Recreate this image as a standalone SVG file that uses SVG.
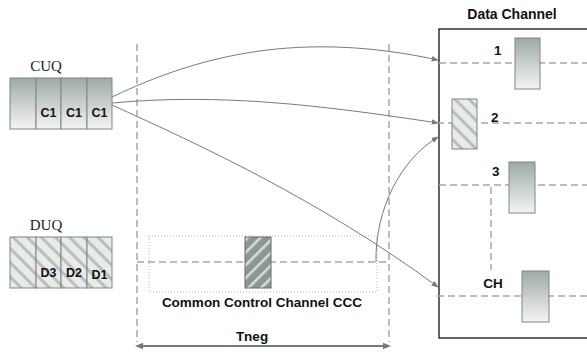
<svg xmlns="http://www.w3.org/2000/svg" width="587" height="354" viewBox="0 0 587 354">
<defs>
<linearGradient id="gr" x1="0" y1="0" x2="0" y2="1">
<stop offset="0" stop-color="#9eaaa3"/>
<stop offset="1" stop-color="#f4f5f4"/>
</linearGradient>
<pattern id="hatchB" patternUnits="userSpaceOnUse" width="10" height="10" patternTransform="rotate(-45)">
<rect width="10" height="10" fill="#e9ebe9"/>
<rect width="3" height="10" fill="#b9c0bb"/>
</pattern>
<pattern id="hatchF" patternUnits="userSpaceOnUse" width="9" height="9" patternTransform="rotate(45)">
<rect width="9" height="9" fill="#8a9890"/>
<rect width="2.5" height="9" fill="#d9ddda"/>
</pattern>
<marker id="ah" viewBox="0 0 10 10" refX="9" refY="5" markerWidth="7" markerHeight="7" orient="auto" markerUnits="userSpaceOnUse">
<path d="M0,1 L10,5 L0,9 z" fill="#707c76"/>
</marker>
<marker id="ah2" viewBox="0 0 10 10" refX="5" refY="5" markerWidth="8" markerHeight="8" orient="auto-start-reverse" markerUnits="userSpaceOnUse">
<path d="M0,1 L10,5 L0,9 z" fill="#707c76"/>
</marker>
</defs>
<style>
.dash{stroke:#a5a9a7;stroke-width:1.5;stroke-dasharray:7,4;fill:none}
.cell{stroke:#7d8781;stroke-width:1}
.lbl{font-family:"Liberation Sans",Arial,sans-serif;font-weight:bold;font-size:12.5px;fill:#111}
.big{font-size:13.5px}
.ttl{font-size:14px}
.ccc{font-size:13.5px}
.ser{font-family:"Liberation Serif","Times New Roman",serif;font-size:15px;fill:#222}
.conn{stroke:#727e78;stroke-width:1;fill:none}
</style>
<rect width="587" height="354" fill="#fff"/>

<g id="timeline">
<line class="dash" x1="137" y1="44" x2="137" y2="342"/>
<line class="dash" x1="389" y1="44" x2="389" y2="342"/>
<line x1="139" y1="346" x2="387" y2="346" stroke="#707c76" stroke-width="2" marker-start="url(#ah2)" marker-end="url(#ah2)"/>
<text class="lbl big" x="252" y="341" text-anchor="middle">Tneg</text>
</g>

<g id="cuq">
<text class="ser" x="46" y="71" text-anchor="middle">CUQ</text>
<rect class="cell" x="10" y="78" width="26" height="51" fill="url(#gr)"/>
<rect class="cell" x="36" y="78" width="25" height="51" fill="url(#gr)"/>
<rect class="cell" x="61" y="78" width="26" height="51" fill="url(#gr)"/>
<rect class="cell" x="87" y="78" width="25" height="51" fill="url(#gr)"/>
<text class="lbl" x="48.5" y="117" text-anchor="middle">C1</text>
<text class="lbl" x="74" y="117" text-anchor="middle">C1</text>
<text class="lbl" x="99.5" y="117" text-anchor="middle">C1</text>
</g>

<g id="duq">
<text class="ser" x="46" y="230" text-anchor="middle">DUQ</text>
<rect class="cell" x="10" y="237" width="26" height="51" fill="url(#hatchB)"/>
<rect class="cell" x="36" y="237" width="25" height="51" fill="url(#hatchB)"/>
<rect class="cell" x="61" y="237" width="26" height="51" fill="url(#hatchB)"/>
<rect class="cell" x="87" y="237" width="25" height="51" fill="url(#hatchB)"/>
<text class="lbl" x="48.5" y="277" text-anchor="middle">D3</text>
<text class="lbl" x="74" y="277" text-anchor="middle">D2</text>
<text class="lbl" x="99.5" y="279" text-anchor="middle">D1</text>
</g>

<g id="ccc">
<rect x="149" y="236" width="228" height="56" fill="none" stroke="#b5b8b6" stroke-width="1" stroke-dasharray="1,2"/>
<line class="dash" x1="137" y1="262" x2="389" y2="262"/>
<rect x="245" y="237" width="26" height="51" fill="url(#hatchF)" stroke="#5f6b65" stroke-width="1"/>
<text class="lbl ccc" x="262" y="307" text-anchor="middle">Common Control Channel CCC</text>
</g>

<g id="data-channel">
<text class="lbl ttl" x="512" y="19" text-anchor="middle">Data Channel</text>
<rect x="439" y="29" width="200" height="309" fill="none" stroke="#111" stroke-width="1.3"/>
</g>

<g id="ch1">
<line class="dash" x1="439" y1="63" x2="587" y2="63"/>
<text class="lbl big" x="494" y="55">1</text>
<rect class="cell" x="515" y="38" width="25" height="51" fill="url(#gr)"/>
</g>

<g id="ch2">
<line class="dash" x1="437" y1="123" x2="587" y2="123"/>
<rect class="cell" x="452" y="99" width="25" height="50" fill="url(#hatchB)"/>
<text class="lbl big" x="491" y="122">2</text>
</g>

<g id="ch3">
<line class="dash" x1="439" y1="185" x2="587" y2="185"/>
<text class="lbl big" x="492" y="176">3</text>
<rect class="cell" x="509" y="162" width="26" height="51" fill="url(#gr)"/>
<line class="dash" x1="491" y1="187" x2="491" y2="270"/>
</g>

<g id="chCH">
<line class="dash" x1="437" y1="296" x2="587" y2="296"/>
<text class="lbl big" x="493" y="288" text-anchor="middle">CH</text>
<rect class="cell" x="522" y="271" width="27" height="51" fill="url(#gr)"/>
</g>

<g id="connectors">
<path class="conn" d="M112,97 C200,55 300,30 438,60" marker-end="url(#ah)"/>
<path class="conn" d="M112,103 C220,93 320,105 438,123" marker-end="url(#ah)"/>
<path class="conn" d="M112,105 C200,145 320,200 438,287" marker-end="url(#ah)"/>
<path class="conn" d="M376,262 C375,210 400,160 438,137" marker-end="url(#ah)"/>
</g>
</svg>
